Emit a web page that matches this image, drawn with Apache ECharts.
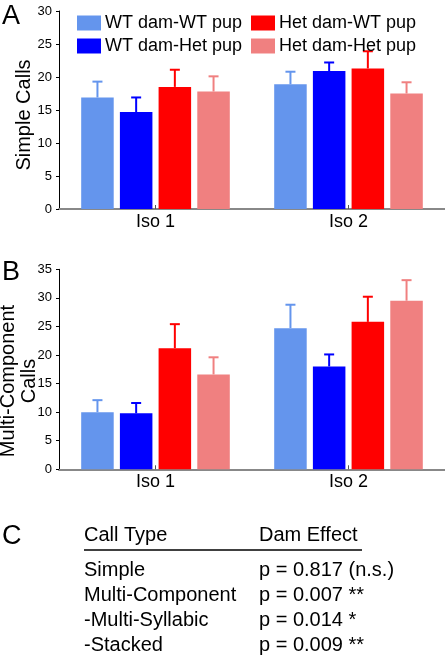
<!DOCTYPE html>
<html>
<head>
<meta charset="utf-8">
<script src="https://cdn.jsdelivr.net/npm/echarts@6/dist/echarts.min.js"></script>
<style>html,body{margin:0;padding:0;background:#fff}#c{width:445px;height:655px}</style>
</head>
<body>
<div id="c"></div>
<script>
// ---- data ----
var categories = ['Iso 1', 'Iso 2'];
var groupNames = ['WT dam-WT pup', 'WT dam-Het pup', 'Het dam-WT pup', 'Het dam-Het pup'];
var groupColors = ['#6495ED', '#0000FF', '#FF0000', '#F08080'];

// Panel A: Simple Calls (means and upper error sizes)
var simpleWTWT = [16.9, 18.9];
var simpleWTHet = [14.7, 20.9];
var simpleHetWT = [18.5, 21.3];
var simpleHetHet = [17.8, 17.5];
var simpleErrWTWT = [2.4, 1.9];
var simpleErrWTHet = [2.2, 1.3];
var simpleErrHetWT = [2.6, 2.6];
var simpleErrHetHet = [2.3, 1.7];

// Panel B: Multi-Component Calls
var multiWTWT = [10.0, 24.7];
var multiWTHet = [9.8, 18.0];
var multiHetWT = [21.2, 25.8];
var multiHetHet = [16.6, 29.5];
var multiErrWTWT = [2.1, 4.1];
var multiErrWTHet = [1.8, 2.1];
var multiErrHetWT = [4.2, 4.4];
var multiErrHetHet = [3.0, 3.6];

// axes
var yTicksA = [0, 30, 5];
var yTicksB = [0, 35, 5];
var yNameA = 'Simple Calls';
var yNameB = 'Multi-Component\nCalls';

// Panel C table
var tableHeader = ['Call Type', 'Dam Effect'];
var tableCallTypes = ['Simple', 'Multi-Component', '-Multi-Syllabic', '-Stacked'];
var tableEffects = ['p = 0.817 (n.s.)', 'p = 0.007 **', 'p = 0.014 *', 'p = 0.009 **'];

// ---- chart ----
var FONT = '"Liberation Sans", Arial, Helvetica, sans-serif';
var CAT_GAP = 0.23, BAR_GAP = 0.19;

var simpleMeans = [simpleWTWT, simpleWTHet, simpleHetWT, simpleHetHet];
var simpleErrs = [simpleErrWTWT, simpleErrWTHet, simpleErrHetWT, simpleErrHetHet];
var multiMeans = [multiWTWT, multiWTHet, multiHetWT, multiHetHet];
var multiErrs = [multiErrWTWT, multiErrWTHet, multiErrHetWT, multiErrHetHet];

function errRender(idx) {
  return function (params, api) {
    var band = api.size([1, 0])[0];
    var usable = band * (1 - CAT_GAP);
    var bw = usable / (4 + 3 * BAR_GAP);
    var off = -usable / 2 + bw / 2 + idx * bw * (1 + BAR_GAP);
    var p0 = api.coord([api.value(0), api.value(1)]);
    var p1 = api.coord([api.value(0), api.value(2)]);
    var x = p0[0] + off;
    var col = groupColors[idx];
    var st = { stroke: col, lineWidth: 2 };
    return {
      type: 'group',
      children: [
        { type: 'line', shape: { x1: x, y1: p0[1], x2: x, y2: p1[1] }, style: st },
        { type: 'line', shape: { x1: x - 5, y1: p1[1], x2: x + 5, y2: p1[1] }, style: st }
      ]
    };
  };
}

var series = [];
[[simpleMeans, simpleErrs, 0], [multiMeans, multiErrs, 1]].forEach(function (pan) {
  var means = pan[0], errs = pan[1], ax = pan[2];
  for (var i = 0; i < 4; i++) {
    series.push({
      type: 'bar', name: groupNames[i], xAxisIndex: ax, yAxisIndex: ax,
      data: means[i], itemStyle: { color: groupColors[i] },
      barGap: (BAR_GAP * 100) + '%', barCategoryGap: (CAT_GAP * 100) + '%',
      emphasis: { disabled: true }
    });
  }
  for (var j = 0; j < 4; j++) {
    series.push({
      type: 'custom', name: groupNames[j], xAxisIndex: ax, yAxisIndex: ax,
      renderItem: errRender(j), z: 3,
      data: means[j].map(function (v, k) { return [k, v, v + errs[j][k]]; })
    });
  }
});

function xAx(gi) {
  return {
    type: 'category', gridIndex: gi, data: categories,
    axisLine: { lineStyle: { color: '#888', width: 2 } },
    axisTick: { show: true, alignWithLabel: true, inside: true, length: 4, lineStyle: { color: '#555' } },
    axisLabel: { fontSize: 18, color: '#000', fontFamily: FONT, margin: 4 }
  };
}
function yAx(gi, t) {
  return {
    type: 'value', gridIndex: gi, min: t[0], max: t[1], interval: t[2],
    axisLine: { show: true, lineStyle: { color: '#000', width: 1 } },
    axisTick: { show: true, length: 3, lineStyle: { color: '#000' } },
    splitLine: { show: false },
    axisLabel: { fontSize: 13, color: '#000', fontFamily: FONT, margin: 7 }
  };
}

var gfx = [];
[['A', 17], ['B', 273], ['C', 537]].forEach(function (l) {
  gfx.push({ type: 'text', left: 2, top: l[1] - 14, style: { text: l[0], font: '27px ' + FONT, fill: '#000' } });
});
// rotated y-axis names
gfx.push({ type: 'text', x: 24, y: 115, rotation: Math.PI / 2,
  style: { text: yNameA, font: '20px ' + FONT, fill: '#000', align: 'center', verticalAlign: 'middle' } });
gfx.push({ type: 'text', x: 19, y: 381, rotation: Math.PI / 2,
  style: { text: yNameB, font: '20px ' + FONT, lineHeight: 21, fill: '#000', align: 'center', verticalAlign: 'middle' } });

var colX = [84, 259];
gfx.push({ type: 'text', left: colX[0], top: 525, style: { text: tableHeader[0], font: '20px ' + FONT, fill: '#000' } });
gfx.push({ type: 'text', left: colX[1], top: 525, style: { text: tableHeader[1], font: '20px ' + FONT, fill: '#000' } });
gfx.push({ type: 'line', shape: { x1: 84, y1: 550, x2: 362, y2: 550 }, style: { stroke: '#000', lineWidth: 1.5 } });
tableCallTypes.forEach(function (t, i) {
  var y = 560 + i * 25.3;
  gfx.push({ type: 'text', left: colX[0], top: y, style: { text: t, font: '20px ' + FONT, fill: '#000' } });
  gfx.push({ type: 'text', left: colX[1], top: y, style: { text: tableEffects[i], font: '20px ' + FONT, fill: '#000' } });
});

var legendCommon = {
  orient: 'vertical', itemWidth: 24, itemHeight: 15, itemGap: 5, icon: 'rect', padding: 0,
  textStyle: { fontSize: 18, color: '#000', fontFamily: FONT, lineHeight: 15, padding: [0, 0, 0, -1] },
  selectedMode: false
};

var option = {
  animation: false,
  textStyle: { fontFamily: FONT },
  grid: [
    { left: 59, right: 0, top: 11, height: 198, outerBoundsMode: 'none' },
    { left: 59, right: 0, top: 269.3, height: 200, outerBoundsMode: 'none' }
  ],
  legend: [
    Object.assign({ left: 77, top: 14, data: [groupNames[0], groupNames[1]] }, legendCommon),
    Object.assign({ left: 251, top: 14, data: [groupNames[2], groupNames[3]] }, legendCommon)
  ],
  xAxis: [xAx(0), xAx(1)],
  yAxis: [yAx(0, yTicksA), yAx(1, yTicksB)],
  series: series,
  graphic: gfx
};

var chart = echarts.init(document.getElementById('c'), null, { renderer: 'canvas' });
chart.setOption(option);
</script>
</body>
</html>
